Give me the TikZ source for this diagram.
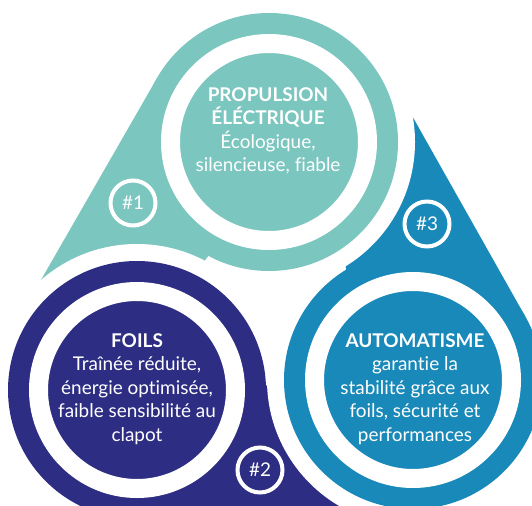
\documentclass[tikz,border=0pt]{standalone}
\usepackage{fontspec}
\setmainfont{Lato}[Ligatures=NoCommon]
\definecolor{tealdrop}{RGB}{123,198,191}
\definecolor{navydrop}{RGB}{45,46,131}
\definecolor{bluedrop}{RGB}{25,137,185}

\begin{document}
\begin{tikzpicture}[x=1bp,y=-1bp,
        dropgap/.style={draw=white,line width=34bp,line join=round},
        whitering/.style={draw=white,line width=19bp},
        blurb/.style={text=white,align=center,font=\fontsize{19}{23.5}\selectfont},
        marker/.style={circle,draw=white,line width=4bp,minimum size=45bp,inner sep=0pt,
            text=white,font=\fontsize{19}{19}\selectfont}]
    \useasboundingbox (0,0) rectangle (532,506);
    \clip (0,0) rectangle (532,506);

    % teal drop, tail to the lower left
    \path[dropgap] (269,142) circle (129)
        (22,313) -- (157.2,77.8) -- (269,142) -- (208.4,255.9) -- (150,330) -- cycle;
    \fill[tealdrop] (269,142) circle (129);
    \fill[tealdrop] (22,313) -- (157.2,77.8) -- (269,142) -- (208.4,255.9) -- (150,330) -- cycle;

    % navy drop, tail to the lower right
    \path[dropgap] (137,390) circle (129)
        (412.5,520.7) -- (136.1,519) -- (137,390) -- (265.9,385.3) -- (380,420) -- cycle;
    \fill[navydrop] (137,390) circle (129);
    \fill[navydrop] (412.5,520.7) -- (136.1,519) -- (137,390) -- (265.9,385.3) -- (380,420) -- cycle;

    % blue drop, tail to the top
    \path[dropgap] (413,380) circle (129)
        (387.3,71.9) -- (525.3,316.6) -- (413,380) -- (346.2,269.7) -- (330,170) -- cycle;
    \fill[bluedrop] (413,380) circle (129);
    \fill[bluedrop] (387.3,71.9) -- (525.3,316.6) -- (413,380) -- (346.2,269.7) -- (330,170) -- cycle;

    % teal circle again over the blue tail
    \begin{scope}
        \clip (275,-10) rectangle (540,300);
        \path[dropgap] (269,142) circle (129);
        \fill[tealdrop] (269,142) circle (129);
    \end{scope}

    \draw[whitering] (269,142) circle (98.5);
    \draw[whitering] (137,390) circle (98.5);
    \draw[whitering] (413,380) circle (98.5);

    \node[blurb] (propulsion) at (268,131)
        {\textbf{PROPULSION}\\\textbf{ÉLÉCTRIQUE}\\Écologique,\\silencieuse, fiable};
    \node[blurb] (foils) at (137,389)
        {\textbf{FOILS}\\Traînée réduite,\\énergie optimisée,\\faible sensibilité au\\clapot};
    \node[blurb] (automatisme) at (415,389)
        {\textbf{AUTOMATISME}\\garantie la\\stabilité grâce aux\\foils, sécurité et\\performances};

    \node[marker] (n1) at (133,203) {\#1};
    \node[marker] (n2) at (260,470) {\#2};
    \node[marker] (n3) at (427,224) {\#3};
\end{tikzpicture}
\end{document}
